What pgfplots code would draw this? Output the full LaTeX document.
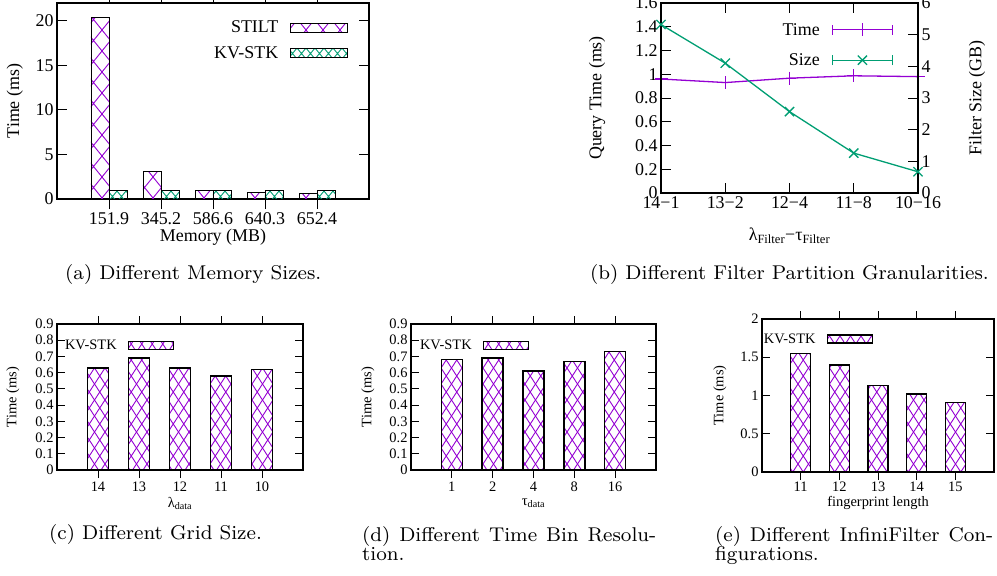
\documentclass[border=0pt]{standalone}
\usepackage{fontspec}
\usepackage{pgfplots}
\pgfplotsset{compat=1.18}
\usetikzlibrary{patterns}
\newfontfamily\tms{Liberation Serif}
\newfontfamily\lmeight{lmroman8-regular.otf}
\definecolor{gpurple}{RGB}{148,0,211}
\definecolor{ggreen}{RGB}{0,158,115}

\pgfdeclarepatternformonly{bigx}{\pgfqpoint{-1bp}{-1bp}}{\pgfqpoint{18bp}{22bp}}{\pgfqpoint{17bp}{21bp}}{%
  \pgfsetlinewidth{0.9bp}%
  \pgfpathmoveto{\pgfqpoint{0bp}{0bp}}\pgfpathlineto{\pgfqpoint{17bp}{21bp}}%
  \pgfpathmoveto{\pgfqpoint{0bp}{21bp}}\pgfpathlineto{\pgfqpoint{17bp}{0bp}}%
  \pgfusepath{stroke}}
\pgfdeclarepatternformonly{smallx}{\pgfqpoint{-1bp}{-1bp}}{\pgfqpoint{10bp}{12bp}}{\pgfqpoint{9bp}{11bp}}{%
  \pgfsetlinewidth{0.9bp}%
  \pgfpathmoveto{\pgfqpoint{0bp}{0bp}}\pgfpathlineto{\pgfqpoint{9bp}{11bp}}%
  \pgfpathmoveto{\pgfqpoint{0bp}{11bp}}\pgfpathlineto{\pgfqpoint{9bp}{0bp}}%
  \pgfusepath{stroke}}
\pgfdeclarepatternformonly{midx}{\pgfqpoint{-1bp}{-1bp}}{\pgfqpoint{11.5bp}{17bp}}{\pgfqpoint{10.5bp}{16bp}}{%
  \pgfsetlinewidth{0.9bp}%
  \pgfpathmoveto{\pgfqpoint{0bp}{0bp}}\pgfpathlineto{\pgfqpoint{10.5bp}{16bp}}%
  \pgfpathmoveto{\pgfqpoint{0bp}{16bp}}\pgfpathlineto{\pgfqpoint{10.5bp}{0bp}}%
  \pgfusepath{stroke}}

\newcommand\bigfont{\tms\fontsize{18}{20}\selectfont}
\newcommand\smallfont{\tms\fontsize{14.5}{16}\selectfont}
\newcommand\capfont{\lmeight\fontsize{20}{19}\selectfont}

\pgfplotsset{
  gp/.style={scale only axis, tick align=inside,
    xtick pos=both, ytick pos=both, xticklabel pos=lower, yticklabel pos=left,
    /pgf/number format/assume math mode=true,
    legend style={draw=none, fill=none, inner sep=0pt, outer sep=0pt},
    legend plot pos=right, legend cell align=right,
    every tick/.style={black, line width=0.9bp}},
  big/.style={gp, font=\bigfont, tick label style={font=\bigfont}, label style={font=\bigfont},
    legend style={font=\bigfont, column sep=10bp, row sep=8bp},
    axis line style={line width=1.6bp}, major tick length=10bp},
  small/.style={gp, font=\smallfont, tick label style={font=\smallfont}, label style={font=\smallfont},
    legend style={font=\smallfont, column sep=9bp},
    axis line style={line width=1.4bp}, major tick length=8bp,
    xmin=0, xmax=6, xtick={1,2,3,4,5}, ybar, bar width=21bp},
  legA/.style={legend image code/.code={\draw[##1] (0bp,-4.5bp) rectangle (57bp,4.5bp);}},
  legS/.style={legend image code/.code={\draw[##1] (0bp,-4bp) rectangle (45bp,4bp);}},
  legB/.style={legend image code/.code={%
     \draw[mark repeat=2,mark phase=2,##1] plot coordinates {(0bp,0bp) (30bp,0bp) (60bp,0bp)};
     \draw[##1,mark=none] (0bp,-5bp)--(0bp,5bp) (60bp,-5bp)--(60bp,5bp);}},
}

\begin{document}
\begin{tikzpicture}
\path[use as bounding box] (0bp,0bp) rectangle (997bp,-576bp);

% ---------------- (a)
\begin{axis}[big, at={(57bp,-199bp)}, anchor=south west, width=312bp, height=196bp,
  xmin=0, xmax=6, xtick={1,2,3,4,5}, xticklabels={151.9,345.2,586.6,640.3,652.4},
  ymin=0, ymax=22, ytick={0,5,10,15,20},
  ybar=0pt, bar width=18bp,
  xlabel={Memory (MB)}, ylabel={Time (ms)},
  xlabel style={at={(axis description cs:0.5,-0.194)}, anchor=center},
  ylabel style={at={(axis description cs:-0.135,0.5)}, anchor=center},
  legend style={at={(axis description cs:0.933,0.809)}, anchor=east}]
\addplot[legA, draw=black, line width=0.9bp, pattern=bigx, pattern color=gpurple]
  coordinates {(1,20.4) (2,3.05) (3,1.0) (4,0.7) (5,0.65)};
\addlegendentry{STILT}
\addplot[legA, draw=black, line width=0.9bp, pattern=smallx, pattern color=ggreen]
  coordinates {(1,1.0) (2,0.98) (3,0.98) (4,1.0) (5,1.0)};
\addlegendentry{KV-STK}
\end{axis}

% ---------------- (b)
\begin{axis}[big, at={(661bp,-193bp)}, anchor=south west, width=257bp, height=190bp,
  xmin=0, xmax=4, xtick={0,1,2,3,4}, xticklabels={14−1,13−2,12−4,11−8,10−16},
  ymin=0, ymax=1.6, ytick={0,0.2,0.4,0.6,0.8,1,1.2,1.4,1.6}, ytick pos=left,
  xlabel={λ\textsubscript{Filter}−τ\textsubscript{Filter}}, ylabel={Query Time (ms)},
  xlabel style={at={(axis description cs:0.5,-0.225)}, anchor=center},
  ylabel style={at={(axis description cs:-0.249,0.5)}, anchor=center}]
\addplot[gpurple, line width=1.3bp, mark=+, mark size=6.5bp, mark options={line width=1.3bp}]
  coordinates {(0,0.96) (1,0.93) (2,0.967) (3,0.987) (4,0.98)};
\end{axis}
\begin{axis}[big, at={(661bp,-193bp)}, anchor=south west, width=257bp, height=190bp,
  xmin=0, xmax=4, xtick=\empty,
  ymin=0, ymax=6, ytick={0,1,2,3,4,5,6}, ytick pos=right, yticklabel pos=right,
  ylabel={Filter Size (GB)},
  ylabel style={at={(axis description cs:1.23,0.5)}, anchor=center},
  legend style={at={(axis description cs:0.903,0.779)}, anchor=east, row sep=13bp}]
\addlegendimage{legB, gpurple, line width=1.3bp, mark=+, mark size=6.5bp, mark options={line width=1.3bp}}
\addlegendentry{Time}
\addplot[legB, ggreen, line width=1.3bp, mark=x, mark size=6.5bp, mark options={line width=1.3bp}]
  coordinates {(0,5.32) (1,4.1) (2,2.57) (3,1.26) (4,0.67)};
\addlegendentry{Size}
\end{axis}

% ---------------- (c)
\begin{axis}[small, at={(57bp,-470bp)}, anchor=south west, width=246bp, height=146bp,
  xticklabels={14,13,12,11,10},
  ymin=0, ymax=0.9, ytick={0,0.1,0.2,0.3,0.4,0.5,0.6,0.7,0.8,0.9},
  xlabel={λ\textsubscript{data}}, ylabel={Time (ms)},
  xlabel style={at={(axis description cs:0.5,-0.23)}, anchor=center},
  ylabel style={at={(axis description cs:-0.179,0.5)}, anchor=center},
  legend style={at={(axis description cs:0.476,0.851)}, anchor=east}]
\addplot[legS, draw=black, line width=1.4bp, pattern=midx, pattern color=gpurple]
  coordinates {(1,0.63) (2,0.69) (3,0.63) (4,0.58) (5,0.62)};
\addlegendentry{KV-STK}
\end{axis}

% ---------------- (d)
\begin{axis}[small, at={(411bp,-470bp)}, anchor=south west, width=245bp, height=146bp,
  xticklabels={1,2,4,8,16},
  ymin=0, ymax=0.9, ytick={0,0.1,0.2,0.3,0.4,0.5,0.6,0.7,0.8,0.9},
  xlabel={τ\textsubscript{data}}, ylabel={Time (ms)},
  xlabel style={at={(axis description cs:0.5,-0.23)}, anchor=center},
  ylabel style={at={(axis description cs:-0.176,0.5)}, anchor=center},
  legend style={at={(axis description cs:0.482,0.851)}, anchor=east}]
\addplot[legS, draw=black, line width=1.4bp, pattern=midx, pattern color=gpurple]
  coordinates {(1,0.68) (2,0.69) (3,0.61) (4,0.67) (5,0.73)};
\addlegendentry{KV-STK}
\end{axis}

% ---------------- (e)
\begin{axis}[small, at={(762bp,-472bp)}, anchor=south west, width=232bp, height=153bp,
  bar width=20bp,
  xticklabels={11,12,13,14,15},
  ymin=0, ymax=2, ytick={0,0.5,1,1.5,2},
  xlabel={fingerprint length}, ylabel={Time (ms)},
  xticklabel style={yshift=2bp},
  xlabel style={at={(axis description cs:0.5,-0.2)}, anchor=center},
  ylabel style={at={(axis description cs:-0.181,0.5)}, anchor=center},
  legend style={at={(axis description cs:0.478,0.869)}, anchor=east}]
\addplot[legS, draw=black, line width=1.4bp, pattern=midx, pattern color=gpurple]
  coordinates {(1,1.55) (2,1.4) (3,1.13) (4,1.02) (5,0.91)};
\addlegendentry{KV-STK}
\end{axis}

% ---------------- captions
\node[anchor=base west, inner sep=0pt, font=\capfont] at (65bp,-279bp) {(a) Different Memory Sizes.};
\node[anchor=base west, inner sep=0pt, font=\capfont] at (590bp,-279bp) {(b) Different Filter Partition Granularities.};
\node[anchor=base west, inner sep=0pt, font=\capfont] at (49bp,-539bp) {(c) Different Grid Size.};
\node[anchor=base west, inner sep=0pt, font=\capfont] at (362bp,-541bp) {\makebox[294bp][s]{(d) Different Time Bin Resolu-}};
\node[anchor=base west, inner sep=0pt, font=\capfont] at (362bp,-560bp) {tion.};
\node[anchor=base west, inner sep=0pt, font=\capfont] at (715bp,-541bp) {\makebox[278bp][s]{(e) Different InfiniFilter Con-}};
\node[anchor=base west, inner sep=0pt, font=\capfont] at (715bp,-560bp) {figurations.};
\end{tikzpicture}
\end{document}
